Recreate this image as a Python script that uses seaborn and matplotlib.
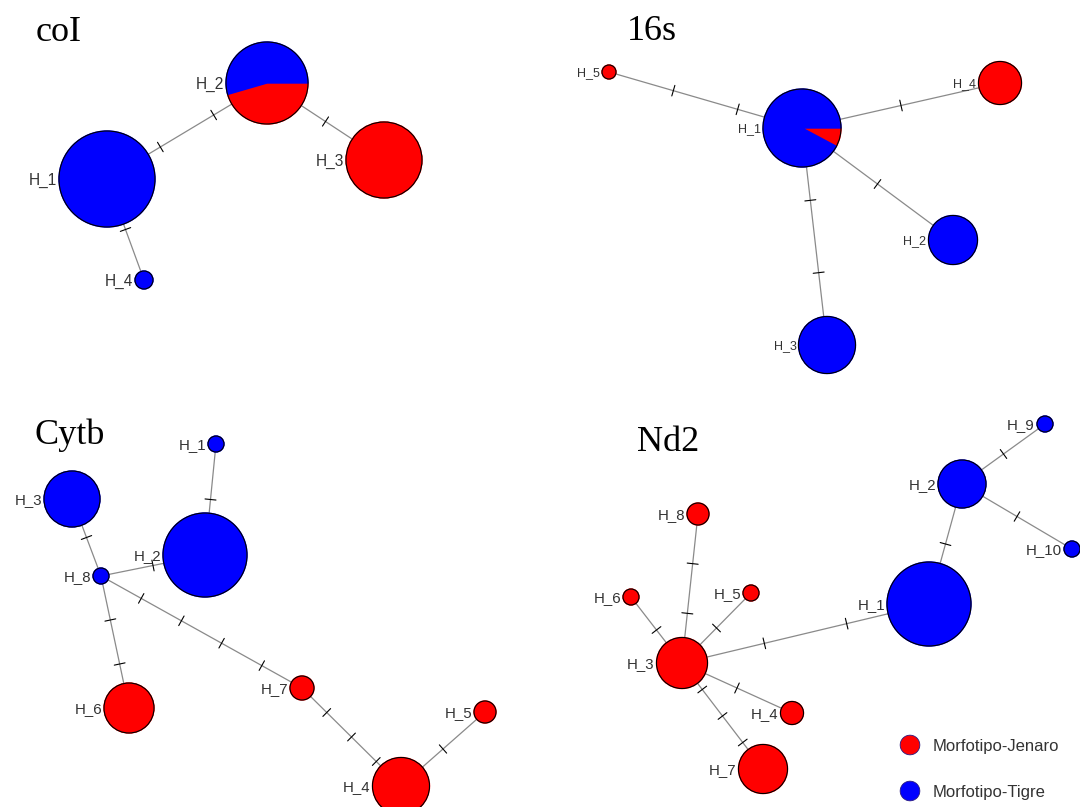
import numpy as np
import pandas as pd
import matplotlib
matplotlib.use("Agg")
import matplotlib.pyplot as plt
from matplotlib.patches import Circle, Wedge
import seaborn as sns

### Haplotype networks (pixel layout, y down)
# coI
coi_names = ["H_1", "H_2", "H_3", "H_4"]
coi_x = [107, 267, 384, 144]
coi_y = [179, 83, 160, 280]
coi_radius = [48, 41, 38, 9]
coi_jenaro_share = [0.0, 0.455, 1.0, 0.0]
coi_links = [("H_1", "H_2", 2), ("H_2", "H_3", 1), ("H_1", "H_4", 1)]

# 16s
s16_names = ["H_1", "H_2", "H_3", "H_4", "H_5"]
s16_x = [802, 953, 827, 1000, 609]
s16_y = [128, 240, 345, 83, 72]
s16_radius = [39, 24.5, 28.5, 21.5, 7]
s16_jenaro_share = [0.078, 0.0, 0.0, 1.0, 1.0]
s16_links = [("H_1", "H_5", 2), ("H_1", "H_4", 1), ("H_1", "H_2", 1), ("H_1", "H_3", 2)]

# Cytb
cytb_names = ["H_1", "H_2", "H_3", "H_4", "H_5", "H_6", "H_7", "H_8"]
cytb_x = [216, 205, 72, 401, 485, 129, 302, 101]
cytb_y = [444, 555, 499, 786, 712, 708, 688, 576]
cytb_radius = [8, 42, 28, 28.5, 11, 25, 12, 8]
cytb_jenaro_share = [0.0, 0.0, 0.0, 1.0, 1.0, 1.0, 1.0, 0.0]
cytb_links = [("H_1", "H_2", 1), ("H_3", "H_8", 1), ("H_8", "H_2", 1), ("H_8", "H_6", 2),
              ("H_8", "H_7", 4), ("H_7", "H_4", 3), ("H_4", "H_5", 1)]

# Nd2
nd2_names = ["H_1", "H_2", "H_3", "H_4", "H_5", "H_6", "H_7", "H_8", "H_9", "H_10"]
nd2_x = [929, 962, 682, 792, 751, 631, 763, 698, 1045, 1072]
nd2_y = [604, 484, 663, 713, 593, 597, 769, 514, 424, 549]
nd2_radius = [42, 24, 25.5, 11.5, 8, 8, 24.5, 11, 8, 8]
nd2_jenaro_share = [0.0, 0.0, 1.0, 1.0, 1.0, 1.0, 1.0, 1.0, 0.0, 0.0]
nd2_links = [("H_2", "H_9", 1), ("H_2", "H_10", 1), ("H_2", "H_1", 1), ("H_1", "H_3", 2),
             ("H_3", "H_8", 2), ("H_3", "H_6", 1), ("H_3", "H_5", 1), ("H_3", "H_4", 1),
             ("H_3", "H_7", 3)]

groups = ["Morfotipo-Jenaro", "Morfotipo-Tigre"]

JENARO = "#ff0000"
TIGRE = "#0000ff"


def draw_network(ax, names, xs, ys, radius, share, links, label_size):
    pos = dict(zip(names, zip(xs, ys)))
    # links with one hatch mark per mutational step
    for a, b, steps in links:
        x0, y0 = pos[a]
        x1, y1 = pos[b]
        ax.plot([x0, x1], [y0, y1], color="#8a8a8a", lw=0.9, zorder=1)
        dx, dy = x1 - x0, y1 - y0
        length = np.hypot(dx, dy)
        px, py = -dy / length, dx / length
        for k in range(1, steps + 1):
            t = k / (steps + 1)
            cx, cy = x0 + dx * t, y0 + dy * t
            ax.plot([cx - px * 5.5, cx + px * 5.5], [cy - py * 5.5, cy + py * 5.5],
                    color="black", lw=0.8, zorder=2)
    # nodes as pies
    for name, x, y, r, s in zip(names, xs, ys, radius, share):
        if s >= 1:
            ax.add_patch(Circle((x, y), r, color=JENARO, zorder=3))
        elif s <= 0:
            ax.add_patch(Circle((x, y), r, color=TIGRE, zorder=3))
        else:
            ax.add_patch(Wedge((x, y), r, 0, s * 360, color=JENARO, zorder=3))
            ax.add_patch(Wedge((x, y), r, s * 360, 360, color=TIGRE, zorder=3))
        ax.add_patch(Circle((x, y), r, fill=False, ec="black", lw=0.8, zorder=4))
        ax.text(x - r - 2, y, name, ha="right", va="center_baseline",
                fontsize=label_size, family="Liberation Sans", color="#333333", zorder=5)


sns.set_theme(style="white")
fig = plt.figure(figsize=(10.8, 8.07), dpi=100)
ax = fig.add_axes([0, 0, 1, 1])

draw_network(ax, coi_names, coi_x, coi_y, coi_radius, coi_jenaro_share, coi_links, 11.2)
draw_network(ax, s16_names, s16_x, s16_y, s16_radius, s16_jenaro_share, s16_links, 9)
draw_network(ax, cytb_names, cytb_x, cytb_y, cytb_radius, cytb_jenaro_share, cytb_links, 10.8)
draw_network(ax, nd2_names, nd2_x, nd2_y, nd2_radius, nd2_jenaro_share, nd2_links, 10.8)

# panel titles
for label, tx, ty in [("coI", 36, 41), ("16s", 627, 39.5), ("Cytb", 35, 443.5), ("Nd2", 637, 451)]:
    ax.text(tx, ty, label, fontsize=26, family="Liberation Serif", color="black", va="baseline")

# legend
legend_df = pd.DataFrame({"x": [910, 910], "y": [745, 791], "group": groups})
sns.scatterplot(data=legend_df, x="x", y="y", hue="group", palette=[JENARO, TIGRE],
                s=200, edgecolor="#2a1a80", linewidth=0.6, legend=False, ax=ax, zorder=6)
for g, ly in zip(groups, legend_df["y"]):
    ax.text(933, ly, g, fontsize=12, family="Liberation Sans", color="#333333",
            va="center_baseline", ha="left")

ax.set_xlim(0, 1080)
ax.set_ylim(807, 0)
ax.set_aspect("equal")
ax.axis("off")
fig.savefig("out.png", dpi=100, facecolor="white")
